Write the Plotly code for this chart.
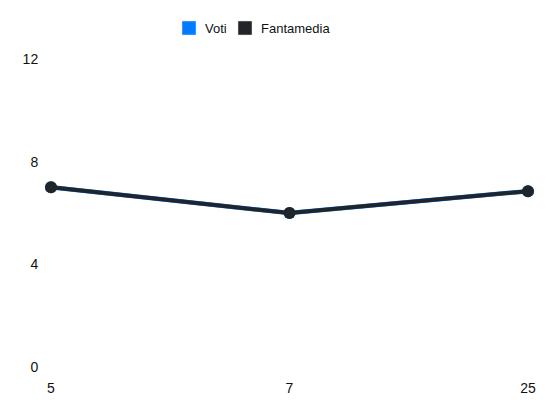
import plotly.graph_objects as go

categories = ["5", "7", "25"]
voti = [7, 6, 6.85]
fantamedia = [7, 6, 6.85]
y_ticks = [0, 4, 8, 12]
legend_names = ["Voti", "Fantamedia"]

BLUE = "#007bff"
DARK = "#212529"
colors = [BLUE, DARK]

W, H = 550, 412
L, R, T, B = 43, 30, 51, 53
PW, PH = W - L - R, H - T - B


def px_x(p):
    return (p - L) / PW


def px_y(p):
    return (H - B - p) / PH


fig = go.Figure()
fig.add_trace(go.Scatter(x=categories, y=voti, mode="lines+markers", name="Voti",
                         line=dict(color=BLUE, width=4.5), marker=dict(color=BLUE, size=12),
                         showlegend=False, cliponaxis=False))
fig.add_trace(go.Scatter(x=categories, y=fantamedia, mode="lines+markers", name="Fantamedia",
                         line=dict(color=DARK, width=4), marker=dict(color=DARK, size=12),
                         showlegend=False, cliponaxis=False))

# custom legend (squares + labels)
sq_left = [174, 230]
txt_left = [196, 252]
shapes, annotations = [], []
for nm, c, sx, tx in zip(legend_names, colors, sq_left, txt_left):
    shapes.append(dict(type="rect", xref="paper", yref="paper",
                       x0=px_x(sx), x1=px_x(sx + 14), y0=px_y(13), y1=px_y(27),
                       fillcolor=c, line=dict(color="#e6e6e6", width=0.5)))
    annotations.append(dict(text=nm, xref="paper", yref="paper", x=px_x(tx), y=px_y(20),
                            xanchor="left", yanchor="middle", showarrow=False,
                            font=dict(size=13, color="#111"), xshift=-1))

fig.update_layout(
    width=W, height=H,
    margin=dict(l=L, r=R, t=T, b=B),
    paper_bgcolor="white", plot_bgcolor="white",
    font=dict(family="Liberation Sans, Arial, sans-serif", size=14, color="#111"),
    showlegend=False,
    shapes=shapes, annotations=annotations,
    xaxis=dict(type="category", range=[0, 2], showgrid=False, zeroline=False,
               showline=False, ticks="outside", ticklen=8, tickcolor="white"),
    yaxis=dict(range=[0, 12], tickvals=y_ticks, showgrid=False, zeroline=False,
               showline=False, ticks="outside", ticklen=9, tickcolor="white"),
)

fig.write_html("out.html")
